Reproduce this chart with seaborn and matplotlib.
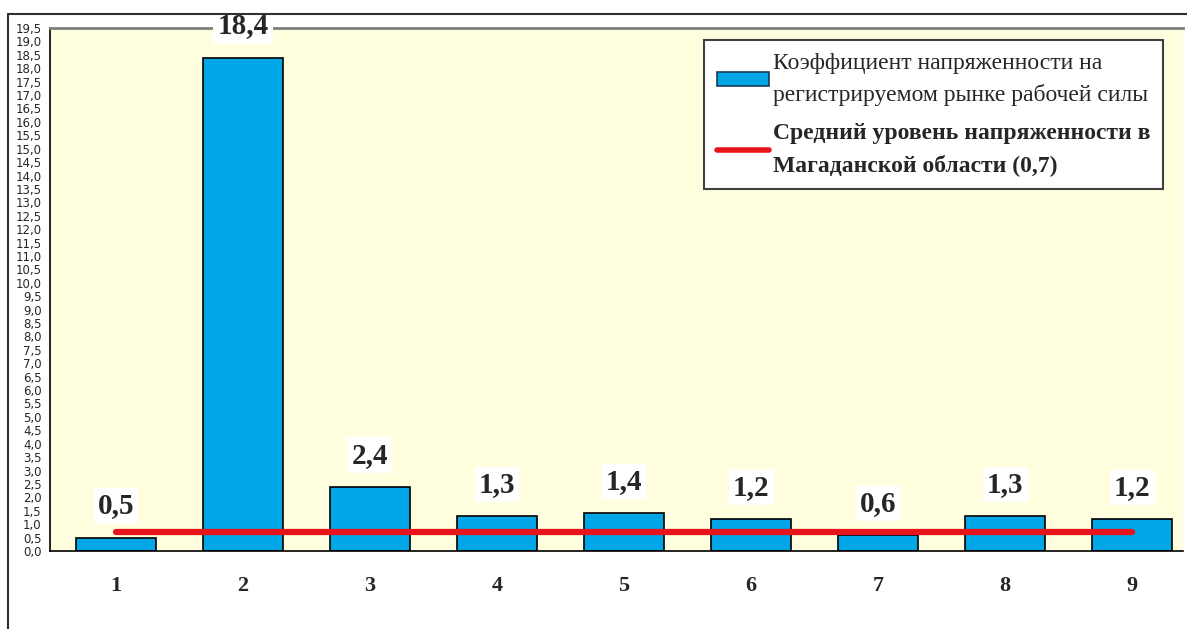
import matplotlib
matplotlib.use("Agg")
import matplotlib.pyplot as plt
import seaborn as sns
import pandas as pd
from matplotlib.patches import Patch
from matplotlib.lines import Line2D
from matplotlib.ticker import MultipleLocator, FuncFormatter

# значения коэффициента напряженности по районам
districts = ["1", "2", "3", "4", "5", "6", "7", "8", "9"]
tension = [0.5, 18.4, 2.4, 1.3, 1.4, 1.2, 0.6, 1.3, 1.2]
avg_level = 0.7

bar_label = "Коэффициент напряженности на\nрегистрируемом рынке рабочей силы"
line_label = "Средний уровень напряженности в\nМагаданской области (0,7)"

df = pd.DataFrame({"Район": districts, "Коэффициент": tension})

bar_color = "#00A6E6"
serif = "Liberation Serif"

sns.set_style("white")
plt.rcParams["font.family"] = ["DejaVu Sans"]

fig = plt.figure(figsize=(11.87, 6.29), dpi=100)
ax = fig.add_axes([50 / 1187, 1 - 551 / 629, 1133 / 1187, 523 / 629])
ax.set_facecolor("#FFFFE0")

sns.barplot(data=df, x="Район", y="Коэффициент", color=bar_color,
            edgecolor="black", linewidth=1.2, width=0.63, saturation=1, ax=ax)

# средний уровень по области
ax.plot(range(len(districts)), [avg_level] * len(districts),
        color="#E8141B", linewidth=4.5, solid_capstyle="round", zorder=3)

# подписи значений над столбцами
for i, v in enumerate(tension):
    ax.annotate(f"{v:.1f}".replace(".", ","), (i, v), xytext=(0, 13),
                textcoords="offset points", ha="center", va="bottom",
                fontsize=21, fontweight="bold", family=serif,
                bbox=dict(facecolor="white", edgecolor="none", pad=3),
                zorder=4)

ax.set_ylim(0, 19.5)
ax.set_xlim(-0.52, 8.4)
ax.yaxis.set_major_locator(MultipleLocator(0.5))
ax.yaxis.set_major_formatter(FuncFormatter(lambda y, p: f"{y:.1f}".replace(".", ",")))
ax.set_xticks([i + 0.5 for i in range(len(districts) - 1)], minor=True)
ax.tick_params(axis="x", which="major", length=0, pad=18)
ax.tick_params(axis="x", which="minor", length=12, direction="inout", width=1)
ax.tick_params(axis="y", length=8, direction="inout", width=1.2, labelsize=8.5, pad=2)
for t in ax.get_xticklabels():
    t.set_fontfamily(serif)
    t.set_fontweight("bold")
    t.set_fontsize(16)
ax.set_xlabel("")
ax.set_ylabel("")

for s in ["left", "bottom"]:
    ax.spines[s].set_color("black")
    ax.spines[s].set_linewidth(1.2)
ax.spines["top"].set_color("#808080")
ax.spines["top"].set_linewidth(2)
ax.spines["right"].set_visible(False)

handles = [Patch(facecolor=bar_color, edgecolor="#1a3a5a", linewidth=1.2),
           Line2D([0], [0], color="#E8141B", linewidth=4)]
leg = ax.legend(handles, [bar_label, line_label], loc="upper right",
                bbox_to_anchor=(1113 / 1133, 1 - 12 / 523),
                frameon=True, fancybox=False, framealpha=1, edgecolor="#404040",
                prop={"family": serif, "size": 17}, handlelength=2.2,
                handletextpad=0.15, borderaxespad=0, labelspacing=0.7,
                borderpad=0.55, handleheight=0.5)
leg.get_frame().set_linewidth(1.5)
for t in leg.get_texts():
    t.set_linespacing(1.6)
leg.get_texts()[1].set_fontweight("bold")

# внешняя рамка
fig.add_artist(Line2D([8 / 1187, 8 / 1187], [0, 1 - 14 / 629], color="#303030", linewidth=1.5))
fig.add_artist(Line2D([8 / 1187, 1], [1 - 14 / 629, 1 - 14 / 629], color="#303030", linewidth=1.5))

fig.savefig("out.png", dpi=100)
